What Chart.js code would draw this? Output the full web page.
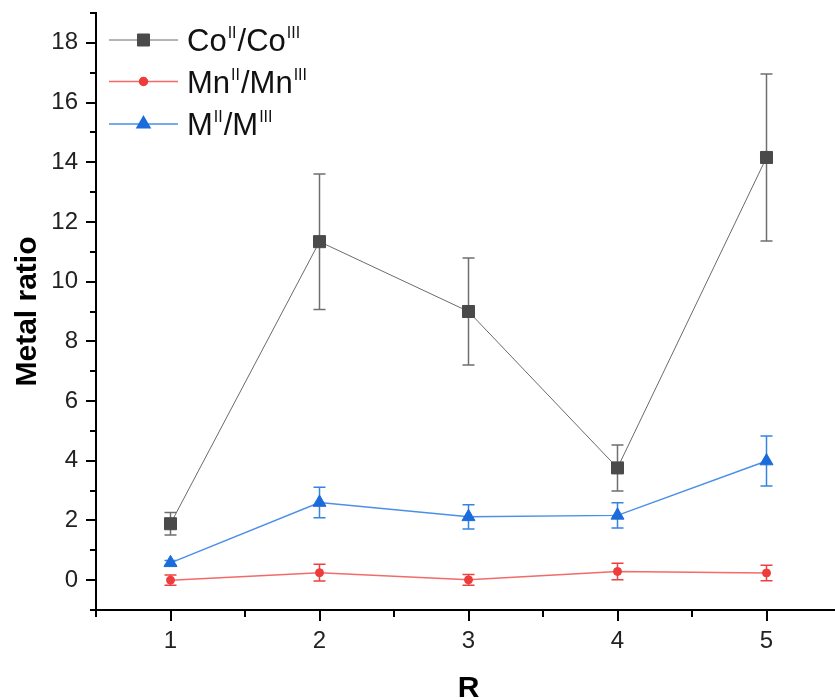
<!DOCTYPE html>
<html>
<head>
<meta charset="utf-8">
<script src="https://cdn.jsdelivr.net/npm/chart.js@4"></script>
<style>
  html, body { margin: 0; padding: 0; background: #fff; overflow: hidden; width: 835px; height: 700px; }
  canvas { display: block; }
</style>
</head>
<body>
<canvas id="ratioChart" width="850" height="720"></canvas>
<script>
// values
const rValues = [1, 2, 3, 4, 5];
const coRatio = [1.89, 11.34, 9.0, 3.76, 14.16];
const coError = [0.38, 2.27, 1.79, 0.77, 2.8];
const mnRatio = [0.0, 0.25, 0.01, 0.29, 0.24];
const mnError = [0.17, 0.28, 0.18, 0.28, 0.26];
const mRatio = [0.58, 2.6, 2.12, 2.17, 3.99];
const mError = [0.08, 0.51, 0.41, 0.42, 0.84];

const xTicks = [1, 2, 3, 4, 5];
const xMinorTicks = [0.5, 1.5, 2.5, 3.5, 4.5, 5.5];
const yTicks = [0, 2, 4, 6, 8, 10, 12, 14, 16, 18];
const yMinorTicks = [-1, 1, 3, 5, 7, 9, 11, 13, 15, 17, 19];

// legend text: [base, sup, base, sup]
const legendLabels = [
    ["Co", "II", "/Co", "III"],
    ["Mn", "II", "/Mn", "III"],
    ["M", "II", "/M", "III"]
];

const fontFamily = "'Liberation Sans', Arial, sans-serif";

function points(ys) {
    return rValues.map((x, i) => ({ x: x, y: ys[i] }));
}

// error bars drawn under the markers
const errorBars = {
    id: "errorBars",
    beforeDatasetsDraw(chart) {
        const ctx = chart.ctx;
        const yScale = chart.scales.y;
        chart.data.datasets.forEach((ds, di) => {
            const meta = chart.getDatasetMeta(di);
            ctx.save();
            ctx.strokeStyle = ds.errorColor;
            ctx.lineWidth = 1.5;
            meta.data.forEach((pt, i) => {
                const v = ds.data[i].y;
                const e = ds.errors[i];
                const top = yScale.getPixelForValue(v + e);
                const bot = yScale.getPixelForValue(v - e);
                ctx.beginPath();
                ctx.moveTo(pt.x, top);
                ctx.lineTo(pt.x, bot);
                ctx.moveTo(pt.x - 6, top);
                ctx.lineTo(pt.x + 6, top);
                ctx.moveTo(pt.x - 6, bot);
                ctx.lineTo(pt.x + 6, bot);
                ctx.stroke();
            });
            ctx.restore();
        });
    }
};

// outward major + minor tick marks
const tickMarks = {
    id: "tickMarks",
    afterDraw(chart) {
        const ctx = chart.ctx;
        const xs = chart.scales.x;
        const ys = chart.scales.y;
        const left = chart.chartArea.left;
        const bottom = chart.chartArea.bottom;
        ctx.save();
        ctx.strokeStyle = "#000";
        ctx.lineWidth = 2;
        ctx.beginPath();
        yTicks.forEach(v => {
            const y = Math.round(ys.getPixelForValue(v));
            ctx.moveTo(left, y); ctx.lineTo(left - 10, y);
        });
        yMinorTicks.forEach(v => {
            const y = Math.round(ys.getPixelForValue(v));
            ctx.moveTo(left, y); ctx.lineTo(left - 6, y);
        });
        xTicks.forEach(v => {
            const x = Math.round(xs.getPixelForValue(v));
            ctx.moveTo(x, bottom); ctx.lineTo(x, bottom + 11);
        });
        xMinorTicks.forEach(v => {
            const x = Math.round(xs.getPixelForValue(v));
            ctx.moveTo(x, bottom); ctx.lineTo(x, bottom + 7);
        });
        ctx.stroke();
        ctx.restore();
    }
};

// legend with superscripts
const superLegend = {
    id: "superLegend",
    afterDraw(chart) {
        const ctx = chart.ctx;
        const rows = [40, 81.5, 124];
        chart.data.datasets.forEach((ds, i) => {
            const y = rows[i];
            ctx.save();
            ctx.strokeStyle = ds.borderColor;
            ctx.lineWidth = ds.borderWidth;
            ctx.beginPath();
            ctx.moveTo(109, y);
            ctx.lineTo(178, y);
            ctx.stroke();
            ctx.fillStyle = ds.pointBackgroundColor;
            ctx.strokeStyle = ds.pointBorderColor;
            Chart.helpers.drawPoint(ctx, {
                pointStyle: ds.pointStyle,
                radius: ds.pointRadius,
                rotation: 0,
                borderWidth: 1
            }, 143.5, y);

            let x = 187;
            const base = y + 11;
            ctx.fillStyle = "#111";
            ctx.textBaseline = "alphabetic";
            legendLabels[i].forEach((part, k) => {
                if (k % 2 === 0) {
                    ctx.font = "31px " + fontFamily;
                    ctx.fillText(part, x, base);
                } else {
                    ctx.font = "16px " + fontFamily;
                    ctx.fillText(part, x + 1, base - 13);
                }
                x += ctx.measureText(part).width + (k % 2 === 1 ? 2 : 0);
            });
            ctx.restore();
        });
    }
};

new Chart(document.getElementById("ratioChart"), {
    type: "line",
    data: {
        datasets: [
            {
                label: "CoII/CoIII",
                data: points(coRatio),
                errors: coError,
                errorColor: "#6f6f6f",
                borderColor: "#6a6a6a",
                borderWidth: 1,
                pointStyle: "rect",
                pointRadius: 8.5,
                pointBackgroundColor: "#4a4a4a",
                pointBorderColor: "#4a4a4a",
                pointBorderWidth: 1
            },
            {
                label: "MnII/MnIII",
                data: points(mnRatio),
                errors: mnError,
                errorColor: "#ee4040",
                borderColor: "#f36a6a",
                borderWidth: 1.5,
                pointStyle: "circle",
                pointRadius: 4,
                pointBackgroundColor: "#ef3b3b",
                pointBorderColor: "#ef3b3b",
                pointBorderWidth: 1
            },
            {
                label: "MII/MIII",
                data: points(mRatio),
                errors: mError,
                errorColor: "#3584e4",
                borderColor: "#4a8fe8",
                borderWidth: 1.5,
                pointStyle: "triangle",
                pointRadius: 7.5,
                pointBackgroundColor: "#1a6bdc",
                pointBorderColor: "#1a6bdc",
                pointBorderWidth: 1
            }
        ]
    },
    options: {
        responsive: false,
        animation: false,
        events: [],
        layout: { autoPadding: false, padding: { top: 13, right: 9, bottom: 0, left: 0 } },
        plugins: {
            legend: { display: false },
            tooltip: { enabled: false }
        },
        scales: {
            x: {
                type: "linear",
                min: 0.5,
                max: 5.5,
                afterBuildTicks: s => { s.ticks = xTicks.map(v => ({ value: v })); },
                afterFit: s => { s.height = 110; s.paddingLeft = 0; s.paddingRight = 0; },
                grid: { display: true, drawOnChartArea: false, drawTicks: false },
                border: { display: true, color: "#000", width: 2 },
                ticks: {
                    padding: 17,
                    color: "#222",
                    font: { family: fontFamily, size: 24 }
                },
                title: {
                    display: true,
                    text: "R",
                    color: "#000",
                    font: { family: fontFamily, size: 30, weight: "bold" },
                    padding: { top: 0, bottom: 13 }
                }
            },
            y: {
                type: "linear",
                min: -1,
                max: 19,
                afterBuildTicks: s => { s.ticks = yTicks.map(v => ({ value: v })); },
                afterFit: s => { s.width = 96; s.paddingTop = 0; s.paddingBottom = 0; },
                grid: { display: true, drawOnChartArea: false, drawTicks: false },
                border: { display: true, color: "#000", width: 2 },
                ticks: {
                    padding: 18,
                    color: "#222",
                    font: { family: fontFamily, size: 24 }
                },
                title: {
                    display: true,
                    text: "Metal ratio",
                    color: "#000",
                    font: { family: fontFamily, size: 30, weight: "bold" },
                    padding: { top: 10, bottom: 0 }
                }
            }
        }
    },
    plugins: [errorBars, tickMarks, superLegend]
});
</script>
</body>
</html>
